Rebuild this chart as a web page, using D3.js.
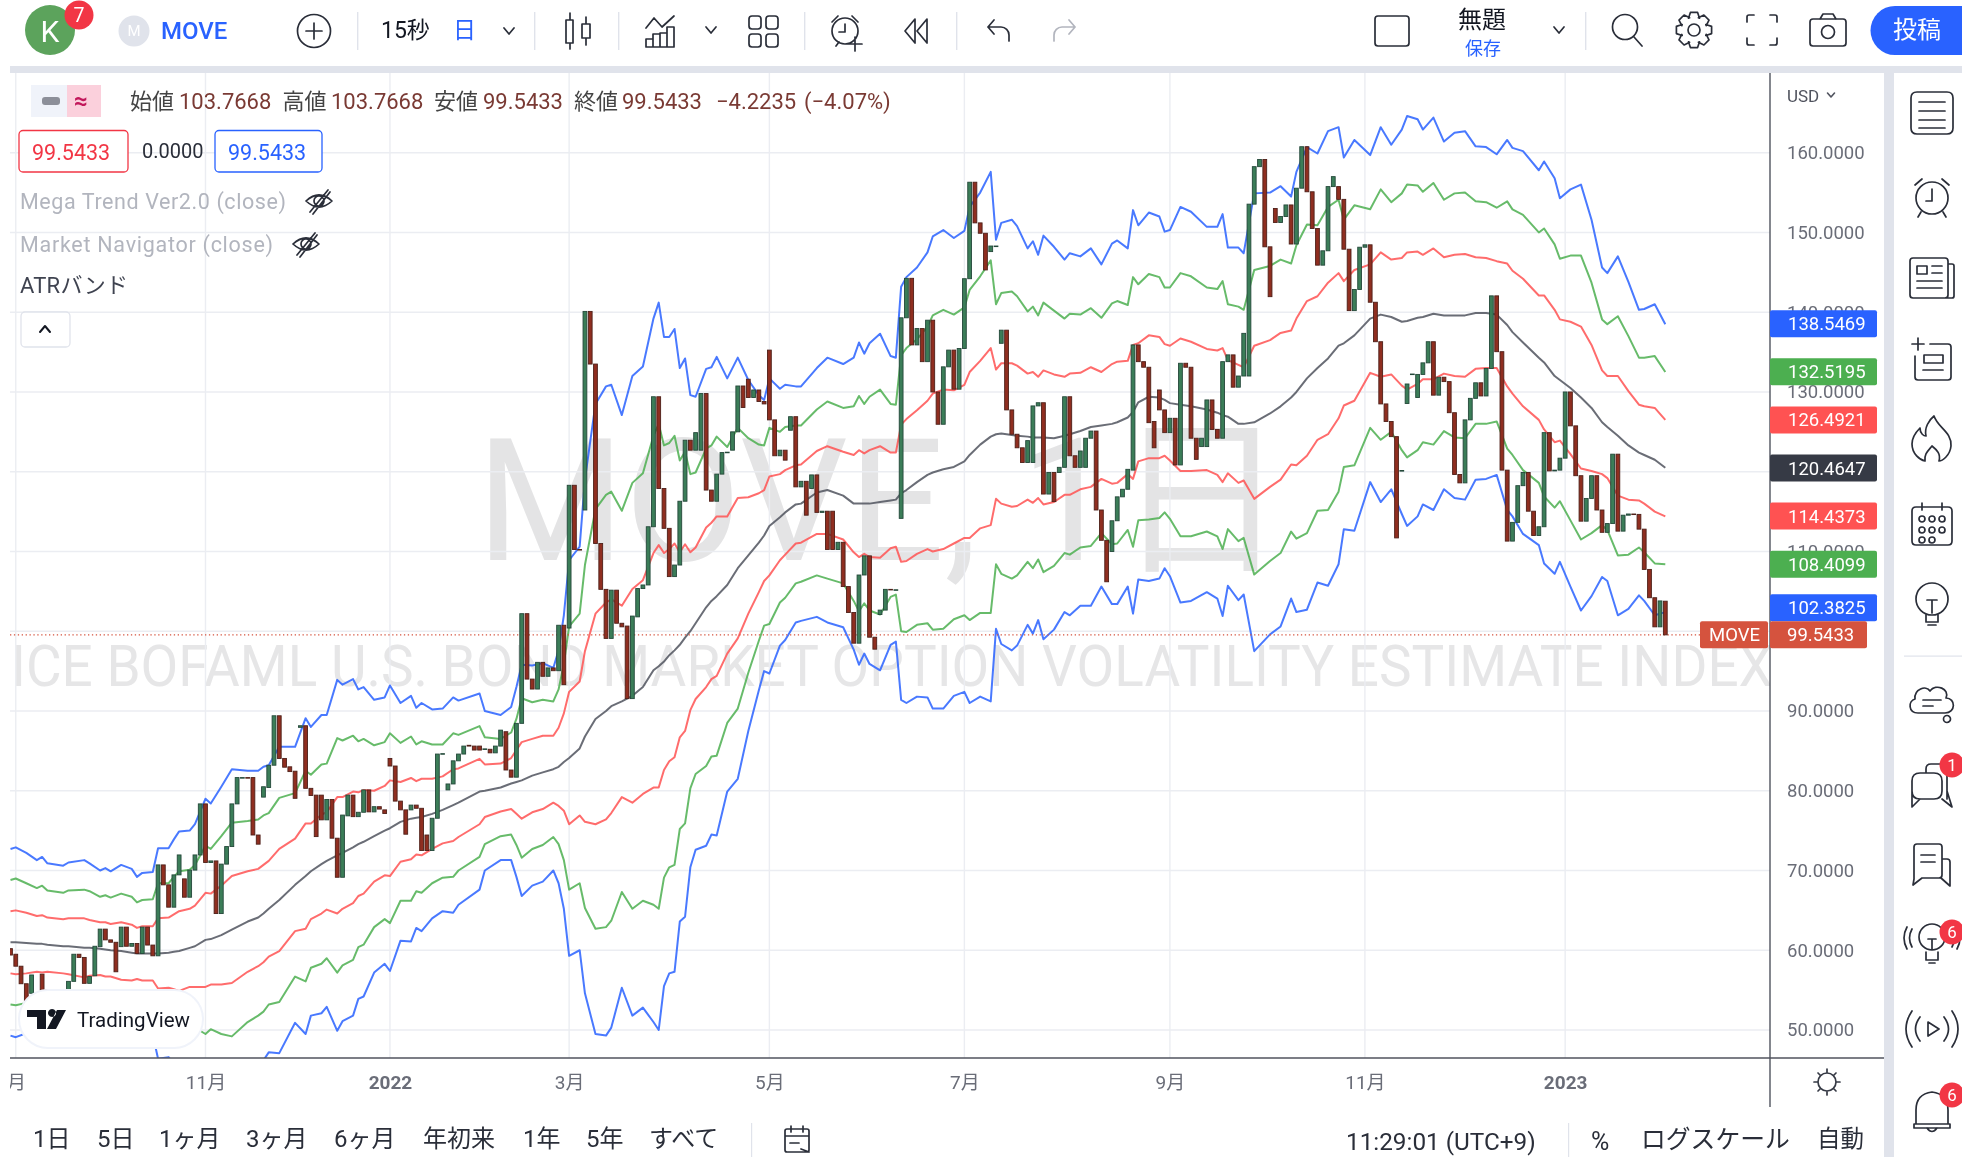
<!DOCTYPE html>
<html><head><meta charset="utf-8">
<style>html,body{margin:0;padding:0;background:#fff;overflow:hidden}svg{display:block;filter:blur(.35px)}text{font-family:Roboto,"Noto Sans CJK JP",sans-serif}</style>
<script src="https://cdnjs.cloudflare.com/ajax/libs/d3/7.8.5/d3.min.js"></script></head><body>
<svg id="c" width="1962" height="1157"></svg>
<script>
const opens=[60.2,59.5,58.0,55.8,54.6,54.6,57.0,55.0,54.5,54.2,54.7,55.0,56.1,59.5,59.1,55.85,56.8,60.45,62.65,61.3,61.0,60.45,62.9,60.5,60.85,59.6,62.9,60.65,59.3,70.7,68.2,65.4,69.45,68.95,66.65,70.05,71.95,78.35,71.0,71.2,64.6,70.8,73.0,78.35,81.6,81.65,81.65,74.45,79.2,80.4,83.2,89.4,84.05,83.0,82.45,87.95,88.15,80.3,79.45,79.45,76.35,78.9,74.05,69.15,76.85,79.45,76.75,77.3,80.1,77.35,78,77.6,84.05,83.1,78.7,77.6,77.6,78.2,77.8,74.45,72.5,76.55,84.6,80.1,80.85,83.75,84.6,85.7,85.6,85.6,85.2,85.2,84.75,85.6,87.4,82.6,81.7,88.45,102.2,94,92.75,96.1,94.35,95.4,95.05,100.75,100.4,118.3,110.25,115.2,140.1,133.5,111,105.25,99.1,105.15,101,100.65,91.55,101.8,105.35,105.8,113.1,129.4,117.9,112.9,106.85,108.3,116.3,123.95,122.7,122.7,129.8,117.7,116.3,119.7,122.4,122.7,125,130.75,131.6,129.3,130.25,128.8,135.25,126.5,122,122.7,125.2,126.9,118.1,118.8,117.9,119.6,114.9,115.05,115.05,110.25,111.15,105.6,102.35,98.5,107.05,109.45,99.25,102.1,102.65,105.25,105.2,114.15,139.3,144.25,135.9,137.95,133.8,139,130,125.95,133.15,135.25,130.35,135.45,144.2,156.3,151.2,149.9,147.6,148.3,136.1,137.75,127.75,124.7,123,121.15,121.15,128.25,128.65,117.2,119.9,119.9,120.55,129.4,122,120.55,120.55,124.2,125.1,115.2,111.4,110,113.85,116.85,117.8,120.2,135.9,133.8,133.1,126.3,130.25,127.75,124.9,126.7,120.85,133.6,133.1,124.2,123.15,123.15,129,125.3,124.2,133.8,134.65,130.6,132,132,153.55,158.25,159.15,148.2,153,151.25,152,153.45,148.55,155.55,160.75,155.1,150.5,145.9,147.7,155.75,155.75,154.15,147.9,140.2,142.85,148.15,148.45,141.25,136.3,128.5,126.3,124.4,120.1,128.55,132.2,129.3,132.2,133.65,136.3,129.6,131.85,131.3,127.4,119.65,118.6,126.5,129.2,131.15,129.5,132.95,142.05,135.05,120.2,111.3,113.65,118.25,119.9,115.05,112,113.1,124.9,120.1,120.2,121.7,130,125.75,119.5,113.8,116.65,119.5,115.2,112.4,113.5,122.2,112.55,114.55,114.7,114.65,112.8,107.75,104.2,100.55,103.7668];
const closes=[59.4,58.0,55.8,53.5,56.9,54.2,55.0,54.5,54.2,54.7,54.9,56.1,59.5,59.1,55.85,56.7,60.5,62.65,61.3,61.0,57.3,62.9,60.5,60.85,59.6,62.9,60.65,59.3,70.7,68.2,65.4,69.45,71.95,66.65,70.05,71.95,78.35,71.0,71.2,64.6,70.8,73.0,78.35,81.65,81.65,81.6,74.45,73.3,80.5,83.2,89.4,84.05,82.95,82.4,79.05,88.15,80.3,79.4,74.25,76.35,78.9,74.05,69.15,76.95,79.45,76.75,77.3,80.1,77.35,78,77.7,77.15,83.1,78.7,77.6,74.55,78.2,77.8,72.5,72.5,76.55,84.6,84.65,80.85,83.75,84.6,85.6,85.6,85.1,85.1,85.25,84.75,85.6,87.6,82.6,81.7,88.45,102.2,94,92.75,96.1,94.35,95.4,95.05,100.75,93.3,118.3,110.25,110.2,140.1,133.5,111,105.25,99.1,105.15,101,100.55,91.55,101.9,105.35,105.8,113.1,129.4,117.9,112.9,106.85,108.3,116.3,123.95,122.7,124.9,129.8,117.7,116.3,119.7,122.4,122.45,125,130.75,128.05,129.3,130.25,128.8,128.5,126.5,122,122.7,121.45,126.9,118.1,118.8,114.55,119.6,114.9,115.05,110.25,110.25,111.15,105.6,102.35,98.5,107.05,109.45,99.25,97.75,102.65,105.25,105.2,105.2,139.3,144.25,135.9,137.95,133.8,139,130,125.95,133.15,135.25,130.35,135.45,144.2,156.3,151.2,149.9,145.3,148.3,148.3,137.75,127.75,124.7,123,121.15,123.9,128.25,128.65,117.2,119.9,116.25,120.55,129.4,122,120.55,122.6,124.2,125.1,115.2,111.4,106.2,113.85,116.85,117.8,120.3,135.9,133.8,133.1,126.15,123,127.75,124.9,126.7,120.85,133.6,133.1,124.2,121.55,124.2,129,125.3,124.2,133.8,134.65,130.6,132,137.35,153.55,158.25,159.15,148.2,141.95,151.25,152,153.45,148.55,155.55,160.75,155.1,150.5,145.9,147.7,155.75,157,154.15,147.9,140.2,142.85,148.15,148.45,141.25,136.3,128.5,126.3,124.4,111.7,120.15,131,132.25,132.2,133.65,136.3,129.6,131.85,131.3,127.4,119.65,118.6,126.5,129.2,131.15,129.5,132.95,142.05,135.05,120.2,111.3,113.65,118.25,119.9,115.05,112,113.1,124.9,120.1,120.2,121.7,130,125.75,119.5,113.8,116.65,119.5,115.2,112.4,113.5,122.2,112.55,114.55,114.7,114.65,112.8,107.75,104.2,100.55,103.8,99.5433];
const bandBars=[0,1,3,5,6,7,10,11,14,15,17,18,19,21,23,24,25,27,28,30,31,32,34,35,37,38,40,42,45,47,48,49,51,54,56,57,59,60,62,63,65,66,67,69,71,72,74,76,77,78,80,82,84,85,89,90,93,95,96,97,99,101,103,104,105,106,108,109,111,113,114,116,118,120,122,123,124,125,126,127,128,129,130,132,133,134,136,138,140,142,143,144,146,147,149,150,153,155,158,160,161,162,163,165,167,168,169,170,172,174,175,177,179,181,182,184,186,187,188,190,191,193,194,195,196,198,200,201,203,205,207,209,210,212,213,214,216,218,219,220,222,224,227,229,230,231,233,234,236,239,241,243,244,246,248,250,252,253,255,258,260,262,264,265,267,268,270,272,274,276,278,280,282,284,285,287,290,291,293,294,296,298,300,302,303,305,307,309,310,312,314];
const upper3=[72.7,72.9,72.2,71.3,71.7,70.9,70.6,71.0,71.3,70.9,70.0,70.3,69.9,70.7,70.2,69.2,69.7,69.8,72.8,72.8,73.9,74.9,75.0,75.8,79.0,78.4,80.5,82.7,82.5,82.5,83.0,83.2,85.5,85.5,89.1,88.0,89.5,89.5,93.9,93.3,94.0,92.7,93.0,91.4,91.7,93.2,91.0,91.9,90.4,91.0,90.2,90.3,91.7,91.3,92.2,90.0,89.5,90.5,93.0,95.8,95.7,96.0,95.4,97.6,102,108.9,110.6,119,128.5,130.7,130.9,127.1,132.0,133.2,139.2,141.2,136.9,136.9,137.9,133.0,134.2,129.6,129.4,132.9,133.1,134.4,131.7,134.3,131.5,129.6,129.0,131.7,130.4,130.9,130.7,130.7,133.0,134.3,133.5,134.3,136.2,134.8,136.1,137.3,134.5,134.3,143.2,144.4,145.6,147.5,149.5,150.3,149.3,150.2,153.2,155.0,157.6,149.1,151.2,151.6,150.8,148.0,148.9,147.2,149.6,148.2,146.6,147.4,147.0,148.0,146.0,148.6,149.0,148.0,152.8,150.9,152.5,152.0,150.1,150.3,153.2,152.6,150.7,150.7,152.3,148.1,148.1,147.4,154.9,155.0,155.8,154.5,157.6,160.7,159.9,162.7,163.2,159.4,161.6,159.7,163.2,161.0,162.9,164.6,164.2,162.9,164.4,161.4,162.5,162.7,160.8,160.7,159.8,161.6,160.6,160.2,157.8,158.9,156.8,154.3,155.4,156.0,151.6,145.6,144.9,147.0,143.8,140.3,140.4,141.0,138.5];
const upper2=[68.8,69.0,68.4,67.8,68.1,67.5,67.2,67.5,67.6,67.4,66.7,66.9,66.6,67.1,66.7,66.0,66.3,66.4,68.4,68.4,69.2,69.9,70.1,70.7,73.1,72.7,74.3,76.0,76.2,76.4,76.9,77.2,79.1,79.7,82.5,82.0,83.3,83.4,86.6,86.3,86.9,86.2,86.5,85.7,86.1,87.2,86.0,86.8,85.8,86.2,85.8,85.8,87.2,87.0,88.1,86.7,86.5,87.3,89.0,91.6,91.1,91.4,91.2,92.7,95.9,100.6,102.2,108.3,115.3,117.1,117.5,115.1,118.6,119.8,124.5,126.0,123.3,123.6,124.5,121.4,122.5,119.7,119.9,122.9,123.3,124.4,123.1,125.5,124.2,123.4,123.3,125.5,125.0,125.6,125.8,125.8,127.8,128.8,128.0,128.2,129.5,128.5,129.4,130.3,128.5,128.4,134.6,135.5,136.6,138.2,139.6,140.3,139.7,140.6,142.8,144.5,146.5,141.0,142.4,142.6,142.0,140.1,140.7,139.6,141.2,140.2,139.2,139.8,139.7,140.5,139.3,141.1,141.4,140.9,144.4,143.5,144.8,144.4,143.1,143.1,144.9,144.5,143.1,142.9,143.9,141.0,140.7,140.3,145.3,145.8,146.6,146.1,148.4,151.0,150.9,153.2,154.1,151.6,153.4,152.9,155.4,153.8,154.9,156.0,155.9,155.1,156.2,154.1,154.9,155.0,153.9,153.8,153.1,153.9,152.9,152.2,150.0,150.5,148.5,146.7,147.1,147.1,143.7,139.1,138.5,139.5,137.0,134.3,134.3,134.5,132.5];
const upper1=[64.9,65.0,64.7,64.3,64.4,64.1,63.9,64.0,64.0,63.8,63.5,63.5,63.3,63.5,63.2,62.8,63.0,63.0,64.0,64.1,64.5,64.9,65.2,65.6,67.2,67.1,68.1,69.3,69.9,70.2,70.7,71.2,72.7,74.0,75.9,75.9,77.0,77.3,79.2,79.2,79.9,79.8,80.1,80.0,80.6,81.3,81.1,81.6,81.2,81.5,81.5,81.8,82.7,82.8,84.0,83.3,83.4,84.1,85.1,86.1,86.5,86.9,86.9,87.9,89.7,92.4,93.7,97.5,102.2,103.6,104.0,103.2,105.3,106.4,109.8,110.8,109.8,110.3,111.0,109.9,110.9,109.9,110.5,113.0,113.6,114.4,114.4,116.7,116.8,117.3,117.7,119.4,119.7,120.2,120.8,120.9,122.6,123.2,122.5,122.1,122.7,122.3,122.7,123.2,122.4,122.4,125.9,126.6,127.7,128.9,129.8,130.3,130.2,130.9,132.5,133.9,135.5,132.8,133.6,133.6,133.3,132.3,132.5,131.9,132.7,132.2,131.9,132.3,132.4,133.1,132.5,133.5,133.8,133.9,135.9,136.1,137.1,136.9,136.0,135.8,136.7,136.3,135.4,135.2,135.5,134.0,133.4,133.1,135.8,136.5,137.4,137.7,139.2,141.4,142.0,143.7,144.9,143.9,145.3,146.0,147.5,146.6,146.8,147.5,147.6,147.2,148.0,146.9,147.2,147.3,146.9,146.8,146.4,146.1,145.2,144.2,142.1,142.1,140.3,139.1,138.8,138.2,135.9,132.7,132.0,132.0,130.1,128.4,128.2,128.0,126.5];
const middle=[61.0,61.0,60.9,60.8,60.8,60.7,60.5,60.5,60.3,60.3,60.2,60.1,60.0,59.9,59.7,59.6,59.6,59.6,59.6,59.7,59.8,59.9,60.3,60.5,61.3,61.4,61.9,62.6,63.6,64.1,64.6,65.2,66.3,68.2,69.3,69.9,70.8,71.2,71.9,72.2,72.9,73.3,73.6,74.3,75.0,75.3,76.1,76.5,76.6,76.7,77.1,77.6,78.2,78.5,79.9,80.0,80.4,80.9,81.1,81.3,81.9,82.3,82.7,83.0,83.6,84.1,85.3,86.8,89.0,90.0,90.6,91.2,91.9,93.0,95.1,95.6,96.2,97.0,97.6,98.3,99.2,100.0,101.0,103.0,103.8,104.4,105.8,107.9,109.5,111.1,112.0,113.2,114.3,114.9,115.9,116.0,117.4,117.7,117.0,116.0,116.0,116.0,116.0,116.2,116.4,116.5,117.3,117.7,118.7,119.6,119.9,120.3,120.6,121.3,122.1,123.4,124.4,124.7,124.8,124.6,124.5,124.4,124.3,124.3,124.3,124.2,124.5,124.7,125.1,125.6,125.8,126.0,126.2,126.8,127.5,128.7,129.4,129.3,129.0,128.6,128.4,128.2,127.8,127.4,127.1,126.9,126.0,126.0,126.2,127.3,128.2,129.3,130.0,131.7,133.0,134.2,135.8,136.1,137.1,139.2,139.7,139.4,138.8,138.9,139.3,139.4,139.8,139.6,139.6,139.6,139.9,139.9,139.7,138.4,137.5,136.2,134.3,133.7,132.0,131.5,130.5,129.3,128.0,126.2,125.6,124.5,123.3,122.4,122.1,121.5,120.5];
const lower1=[57.1,57.0,57.1,57.3,57.2,57.3,57.1,57.0,56.6,56.8,56.9,56.7,56.7,56.3,56.2,56.4,56.2,56.2,55.2,55.3,55.1,54.9,55.4,55.4,55.4,55.7,55.7,55.9,57.3,58.0,58.5,59.2,59.9,62.4,62.7,63.9,64.6,65.1,64.6,65.2,65.9,66.8,67.1,68.6,69.4,69.3,71.1,71.4,72.0,71.9,72.7,73.4,73.7,74.2,75.8,76.7,77.4,77.7,77.1,76.5,77.3,77.7,78.5,78.1,77.5,75.8,76.9,76.1,75.8,76.4,77.2,79.2,78.5,79.6,80.4,80.4,82.6,83.7,84.2,86.7,87.5,90.1,91.5,93.0,94.0,94.4,97.2,99.1,102.2,104.9,106.3,107.0,108.9,109.6,111.0,111.1,112.2,112.2,111.5,109.9,109.3,109.7,109.3,109.2,110.4,110.6,108.7,108.8,109.7,110.3,110.0,110.3,111.0,111.7,111.7,112.9,113.3,116.6,116.0,115.6,115.7,116.5,116.1,116.7,115.9,116.2,117.1,117.1,117.8,118.1,119.1,118.5,118.6,119.7,119.1,121.3,121.7,121.7,122.0,121.4,120.1,120.1,120.2,119.6,118.7,119.8,118.6,118.9,116.6,118.1,119.0,120.9,120.8,122.0,124.0,124.7,126.7,128.3,128.9,132.4,131.9,132.2,130.8,130.3,131.0,131.6,131.6,132.3,132.0,131.9,132.9,133.0,133.0,130.7,129.8,128.2,126.5,125.3,123.7,123.9,122.2,120.4,120.1,119.7,119.2,117.0,116.5,116.4,116.0,115.0,114.4];
const lower2=[53.2,53.1,53.4,53.8,53.5,53.9,53.8,53.5,53.0,53.2,53.7,53.3,53.4,52.7,52.7,53.2,52.9,52.8,50.8,51.0,50.4,49.9,50.5,50.3,49.5,50.1,49.5,49.2,51.0,51.8,52.3,53.2,53.5,56.7,56.1,57.8,58.3,59.0,57.2,58.1,58.8,60.4,60.7,62.9,63.9,63.4,66.2,66.2,67.4,67.2,68.4,69.1,69.2,70.0,71.7,73.3,74.3,74.5,73.2,71.6,72.7,73.2,74.2,73.3,71.3,67.6,68.4,65.3,62.7,62.9,63.7,67.3,65.2,66.2,65.7,65.2,69.1,70.4,70.7,75.2,75.9,80.3,82.1,83.1,84.3,84.4,88.5,90.3,94.8,98.8,100.7,100.9,103.6,104.2,106.0,106.2,107.0,106.6,106.0,103.8,102.5,103.5,102.6,102.1,104.3,104.6,100.0,99.9,100.8,101.0,100.2,100.3,101.5,102.0,101.4,102.3,102.3,108.4,107.2,106.6,107.0,108.7,107.9,109.0,107.4,108.2,109.8,109.6,110.5,110.7,112.3,110.9,111.0,112.7,110.6,113.9,114.0,114.2,114.9,114.1,111.9,111.9,112.5,111.9,110.3,112.8,111.3,111.7,107.1,108.8,109.8,112.5,111.6,112.3,115.1,115.2,117.5,120.6,120.8,125.5,124.0,125.0,122.7,121.8,122.7,123.7,123.4,125.1,124.3,124.2,126.0,126.0,126.3,122.9,122.1,120.2,118.6,116.9,115.5,116.3,113.9,111.5,112.3,113.3,112.7,109.5,109.6,110.5,109.9,108.5,108.4];
const lower3=[49.3,49.1,49.6,50.3,49.9,50.5,50.4,50.0,49.3,49.7,50.4,49.9,50.1,49.1,49.2,50.0,49.5,49.4,46.4,46.6,45.7,44.9,45.6,45.2,43.6,44.4,43.3,42.5,44.7,45.7,46.2,47.2,47.1,50.9,49.5,51.8,52.1,52.9,49.9,51.1,51.8,53.9,54.2,57.2,58.3,57.4,61.2,61.1,62.8,62.4,64.0,64.9,64.7,65.7,67.6,70.0,71.3,71.3,69.2,66.8,68.1,68.6,70.0,68.4,65.2,59.3,60.0,54.6,49.5,49.3,50.3,55.3,51.8,52.8,51.0,50.0,55.5,57.1,57.3,63.6,64.2,70.4,72.6,73.1,74.5,74.4,79.9,81.5,87.5,92.6,95.0,94.7,98.2,98.9,101.1,101.3,101.8,101.1,100.5,97.7,95.8,97.2,95.9,95.1,98.3,98.7,91.4,91.0,91.8,91.7,90.3,90.3,91.9,92.4,91.0,91.8,91.2,100.3,98.4,97.6,98.2,100.8,99.7,101.4,99.0,100.2,102.4,102.0,103.2,103.2,105.6,103.4,103.4,105.6,102.2,106.5,106.3,106.6,107.9,106.9,103.6,103.8,104.9,104.1,101.9,105.7,103.9,104.6,97.5,99.6,100.6,104.1,102.4,102.7,106.1,105.7,108.4,112.8,112.6,118.7,116.2,117.8,114.7,113.2,114.4,115.9,115.2,117.8,116.7,116.5,119.0,119.1,119.6,115.2,114.4,112.2,110.8,108.5,107.2,108.7,105.6,102.6,104.4,106.8,106.3,102.0,102.8,104.5,103.8,102.0,102.4];
const monthBars=[1,37,72,106,144,181,220,257,295];
const monthLabels=["9月","11月","2022","3月","5月","7月","9月","11月","2023"];
const priceTicks=[50,60,70,80,90,100,110,120,130,140,150,160];
const coveredTicks=[100,120];
const lastValues=[138.5469,132.5195,126.4921,120.4647,114.4373,108.4099,102.3825];
const lastClose=99.5433;

const BLUE="#2962ff",GREEN="#4caf50",RED="#ff5252",DARK="#363a45",PR="#d5533e",INK="#2a2e39",BAND="#e0e3eb";
const svg=d3.select("#c");
const x=d3.scaleLinear().domain([0,314]).range([10.5,1665.3]);
const y=d3.scaleLinear().domain([50,160]).range([1030,152.7]);
const L=10,R=1770,T=73,B=1058;
svg.append("defs").append("clipPath").attr("id","plot").append("rect").attr("x",L).attr("y",T).attr("width",R-L).attr("height",B-T);
svg.append("defs").append("clipPath").attr("id","tax").append("rect").attr("x",L).attr("y",B).attr("width",R-L).attr("height",50);
const plot=svg.append("g").attr("clip-path","url(#plot)");

// watermark
plot.append("text").attr("x",881).attr("y",560).attr("text-anchor","middle").attr("font-size",170).attr("fill","#e4e4e5").text("MOVE, 1日");
plot.append("text").attr("x",892).attr("y",686).attr("text-anchor","middle").attr("font-size",58).attr("fill","#e6e6e7").attr("textLength",1762).attr("lengthAdjust","spacingAndGlyphs").text("ICE BOFAML U.S. BOND MARKET OPTION VOLATILITY ESTIMATE INDEX");

// grid
const GRID="#ebedf2";
plot.append("g").selectAll("line").data(priceTicks).join("line").attr("x1",L).attr("x2",R).attr("y1",d=>y(d)).attr("y2",d=>y(d)).attr("stroke",GRID).attr("stroke-width",1.6);
plot.append("g").selectAll("line").data(monthBars).join("line").attr("x1",d=>x(d)).attr("x2",d=>x(d)).attr("y1",T).attr("y2",B).attr("stroke",GRID).attr("stroke-width",1.4);

// bands
const bands=[[upper3,BLUE],[upper2,GREEN],[upper1,RED],[middle,"#50535e"],[lower1,RED],[lower2,GREEN],[lower3,BLUE]];
const line=d3.line().x((d,i)=>x(bandBars[i])).y(d=>y(d));
plot.append("g").selectAll("path").data(bands).join("path").attr("fill","none").attr("stroke",d=>d[1]).attr("stroke-width",2).attr("stroke-opacity",.85).attr("stroke-linejoin","round").attr("d",d=>line(d[0]));

// price line
plot.append("line").attr("x1",L).attr("x2",1700).attr("y1",y(lastClose)).attr("y2",y(lastClose)).attr("stroke",PR).attr("stroke-width",1.2).attr("stroke-dasharray","1.3 2.6");

// candles
plot.append("g").selectAll("rect").data(closes).join("rect")
 .attr("x",(d,i)=>x(i)-1.9).attr("width",3.8)
 .attr("y",(d,i)=>y(Math.max(d,opens[i])))
 .attr("height",(d,i)=>Math.max(.6,Math.abs(y(d)-y(opens[i]))))
 .attr("fill",(d,i)=>d>=opens[i]?"#3b7d58":"#8f2e20")
 .attr("stroke",(d,i)=>d>=opens[i]?"#24483a":"#4e2019").attr("stroke-width",.9);

// axes frame
const yAxis=d3.axisRight(y).tickValues(priceTicks.filter(d=>!coveredTicks.includes(d))).tickFormat(d3.format(".4f")).tickSize(0).tickPadding(0);
const yg=svg.append("g").attr("transform",`translate(1787,0)`).call(yAxis);
yg.select(".domain").remove();
yg.selectAll("text").attr("font-size",18.5).attr("fill","#6a6d78").attr("font-family",'Roboto');
const xAxis=d3.axisBottom(x).tickValues(monthBars).tickFormat((d,i)=>monthLabels[i]).tickSize(0).tickPadding(0);
const xg=svg.append("g").attr("clip-path","url(#tax)").append("g").attr("transform",`translate(0,1075)`).call(xAxis);
xg.select(".domain").remove();
xg.selectAll("text").attr("font-size",19).attr("fill","#6a6d78").attr("font-family",'Roboto,"Noto Sans CJK JP"').attr("font-weight",(d,i)=>/20/.test(monthLabels[i])?700:400).attr("dx",(d,i)=>i===0?-5:0);
svg.append("line").attr("x1",L).attr("x2",1884).attr("y1",B).attr("y2",B).attr("stroke","#50535e").attr("stroke-width",1.6);
svg.append("line").attr("x1",R).attr("x2",R).attr("y1",T).attr("y2",1107).attr("stroke","#50535e").attr("stroke-width",1.4);

// last value labels
const colors=[BLUE,GREEN,RED,DARK,RED,GREEN,BLUE];
const py=y(lastClose);
const labelY=d=>Math.min(y(d),py-27);
const lab=svg.append("g");
lab.selectAll("rect").data(lastValues).join("rect").attr("x",R).attr("width",107).attr("height",27).attr("rx",2).attr("y",d=>labelY(d)-13.5).attr("fill",(d,i)=>colors[i]);
lab.selectAll("text").data(lastValues).join("text").attr("x",1788).attr("y",d=>labelY(d)+6.5).attr("font-size",18.5).attr("fill","#fff").text(d=>d.toFixed(4));
svg.append("rect").attr("x",1700).attr("y",py-13.5).attr("width",68).attr("height",27).attr("rx",2).attr("fill",PR);
svg.append("rect").attr("x",R).attr("y",py-13.5).attr("width",97).attr("height",27).attr("rx",2).attr("fill",PR);
svg.append("text").attr("x",1709).attr("y",py+6.5).attr("font-size",18.5).attr("fill","#fff").text("MOVE");
svg.append("text").attr("x",1787).attr("y",py+6.5).attr("font-size",18.5).attr("fill","#fff").text(lastClose.toFixed(4));

// chrome
const C=svg.append("g");
const T_=(tx,xx,yy,fs,fill="#131722",extra={})=>{const t=C.append("text").attr("x",xx).attr("y",yy).attr("font-size",fs).attr("fill",fill).attr("dominant-baseline","central").text(tx);for(const k in extra)t.attr(k,extra[k]);return t;};
const P=(xx,yy,d,c=INK,w=1.7)=>C.append("path").attr("transform",`translate(${xx},${yy})`).attr("d",d).attr("fill","none").attr("stroke",c).attr("stroke-width",w).attr("stroke-linecap","round").attr("stroke-linejoin","round");
const circ=(r,cx=0,cy=0)=>`M${cx-r},${cy}a${r},${r} 0 1,0 ${2*r},0a${r},${r} 0 1,0 ${-2*r},0`;
const rr=(a,b,w,h,r=3)=>`M${a+r},${b}h${w-2*r}q${r},0 ${r},${r}v${h-2*r}q0,${r} ${-r},${r}h${-(w-2*r)}q${-r},0 ${-r},${-r}v${-(h-2*r)}q0,${-r} ${r},${-r}z`;
const Rect=(a,b,w,h,f,o={})=>{const t=C.append("rect").attr("x",a).attr("y",b).attr("width",w).attr("height",h).attr("fill",f);for(const k in o)t.attr(k,o[k]);return t;};
const CHEV="M-5,-3L0,3L5,-3";
const badge=(cx,cy,n,r=12.5)=>{C.append("circle").attr("cx",cx).attr("cy",cy).attr("r",r).attr("fill","#f23645");T_(n,cx,cy,r*1.35,"#fff",{"text-anchor":"middle"});};
const gear=(ro,ri,n)=>{let s="";for(let k=0;k<n;k++){const a=k/n*2*Math.PI,w=.2;const pts=[[ri,a-2.2*w],[ro,a-w],[ro,a+w],[ri,a+2.2*w]];pts.forEach((p,j)=>{s+=(k===0&&j===0?"M":"L")+(p[0]*Math.cos(p[1])).toFixed(1)+","+(p[0]*Math.sin(p[1])).toFixed(1);});}return s+"Z";};

// bands of UI
Rect(0,0,1962,66,"#fff");
Rect(10,66,1952,7,BAND);
Rect(1884,66,10,1091,BAND);
Rect(1894,73,68,1084,"#fff");
Rect(0,1108,1884,49,"#fff");

// top toolbar
C.append("circle").attr("cx",50).attr("cy",30).attr("r",25).attr("fill","#5ca35c");
T_("K",50,31,30,"#fff",{"text-anchor":"middle"});
badge(79,15,"7",14.5);
C.append("circle").attr("cx",134).attr("cy",31).attr("r",15.5).attr("fill",BAND);
T_("M",134,31,15,"#fff",{"text-anchor":"middle"});
T_("MOVE",161,31,24,BLUE,{"font-weight":500});
P(314,31,circ(16.5)+"M-8,0H8M0,-8V8");
[357,534,618,804,956,1585].forEach(a=>Rect(a,12,1.4,38,BAND));
T_("15秒",381,30,23);
T_("日",453,30,23,BLUE);
P(509,31,CHEV);
P(578,31,"M-8,-18V-11M-8,12V18M-12,-11h7v23h-7zM8,-14V-7M8,7V14M4,-7h8v14h-8z");
P(660,31,"M-14,-3L-6,-13L2,-4L14,-15M-14,16v-8h7v8zM-7,16v-13h7v13zM0,16V2h7v14zM7,16V-4h7v20z");
P(711,30,CHEV);
P(763,31,rr(-14,-15,12,13)+rr(3,-15,12,13)+rr(-14,3,12,13)+rr(3,3,12,13));
P(847,31,circ(13,-2,0)+"M-15,-9L-9,-15M5,-15L11,-9M-2,-7V1H-8M8,6V20M1,13H15M-8,11L-11,15");
P(916,31,"M-1,-12L-11,0L-1,12ZM11,-12L1,0L11,12Z");
P(998,30,"M-10,-3L-4,-10M-10,-3L-4,4M-10,-3H3a8,8 0 0 1 8,8V11");
P(1065,30,"M10,-3L4,-10M10,-3L4,4M10,-3H-3a8,8 0 0 0 -8,8V11","#b2b5be");
P(1392,31,rr(-17,-15,34,30,3));
T_("無題",1458,20,24);
T_("保存",1465,48,18,BLUE);
P(1559,30,CHEV);
P(1627,30,circ(12.5,-2,-3)+"M7,7L15,16");
P(1694,30,circ(6)+gear(18,13,8));
P(1762,30,"M-15,-8V-13q0,-2 2,-2H-8M8,-15H13q2,0 2,2V-8M15,8V13q0,2 -2,2H8M-8,15H-13q-2,0 -2,-2V8");
P(1828,30,rr(-18,-11,36,27,3)+circ(6.5,0,2)+"M-8,-11L-5,-16H5L8,-11");
C.append("path").attr("d","M1962,6H1895a24.5,24.5 0 0 0 0,49H1962Z").attr("fill",BLUE);
T_("投稿",1893,30,24,"#fff");

// legend
Rect(31,85,36,32,"#f0f3fa",{rx:0});
Rect(67,85,34,32,"#fbd0dc");
Rect(42,97,18,8,"#8c8f99",{rx:3});
T_("≈",74,101,24,"#c2185b",{"font-weight":700});
const LV="#7a3a34",LN="#444";
[["始値",130,LN],["103.7668",179,LV],["高値",282.5,LN],["103.7668",331,LV],["安値",434,LN],["99.5433",483,LV],["終値",574,LN],["99.5433",622,LV],["−4.2235",716,LV],["(−4.07%)",804,LV]].forEach(d=>T_(d[0],d[1],101,22,d[2]));
Rect(19,130.5,109,41.5,"#fff",{stroke:"#f23645","stroke-width":1.3,rx:4});
Rect(215,130.5,107,41.5,"#fff",{stroke:BLUE,"stroke-width":1.3,rx:4});
T_("99.5433",32,152,21.5,"#f23645");
T_("0.0000",142,151,20,"#2a2e39");
T_("99.5433",228,152,21.5,BLUE);
T_("Mega Trend Ver2.0 (close)",20,201,21.5,"#b2b5be",{"font-family":"Open Sans","textLength":266});
T_("Market Navigator (close)",20,244,21.5,"#b2b5be",{"font-family":"Open Sans","textLength":253});
T_("ATRバンド",20,285,22,"#3f4350",{"textLength":108});
P(319,201,"M-13,0q13,-12 26,0q-13,12 -26,0"+circ(5)+"M-9,11L9,-11M-6,13L11,-9");
P(306,244,"M-13,0q13,-12 26,0q-13,12 -26,0"+circ(5)+"M-9,11L9,-11M-6,13L11,-9");
Rect(21,312,49,35,"#fff",{stroke:BAND,"stroke-width":1.3,rx:4});
P(45,329,"M-5,3L0,-3L5,3","#131722",2);

// TradingView logo
Rect(19,990,184,58,"#fff",{stroke:"#f0f3fa","stroke-width":2,rx:29});
C.append("path").attr("d","M27,1010H46V1029H37V1017H27ZM57,1010H66L56,1029H47ZM52,1009a4,4 0 1,0 .1,0Z").attr("fill","#131722");
T_("TradingView",77,1020,20.5,"#131722",{"textLength":113});

// price unit
T_("USD",1787,96,17,"#50535e");
P(1831,95,"M-3.5,-2L0,2L3.5,-2","#50535e",1.6);
P(1827,1082,circ(9)+"M0,-9V-13M0,9V13M-9,0H-13M9,0H13M-7,-7L-9,-9M7,7L9,9M-7,7L-9,9M7,-7L9,-9","#363a45");

// right toolbar
const rx_=1932;
P(rx_,113,rr(-21,-21,42,42,6)+"M-13,-11H13M-13,-2H13M-13,7H13M-13,15H13");
P(rx_,197,circ(16,0,1)+"M-17,-12L-10,-18M17,-12L10,-18M0,-8V4H-6M-11,15L-14,20M11,15L14,20");
P(rx_,278,rr(-22,-20,38,40,3)+"M16,-14h4q2,0 2,2V18q0,2 -2,2H-4M-15,-12h10v8h-10zM0,-12H10M0,-5H10M-15,3H10M-15,10H10");
P(rx_,360,"M-20,-16H-8M-14,-22V-10M-2,-16H16q3,0 3,3V17q0,3 -3,3H-14q-3,0 -3,-3V-4M-8,-5H11V3H-8zM-9,10H11");
P(rx_,440,"M2,-24C6,-12 20,-8 19,6C18,16 10,21 7,21C9,14 5,10 0,6C-4,11 -8,14 -7,21C-12,20 -20,14 -20,4C-20,-4 -14,-10 -12,-12C-12,-6 -8,-4 -6,-4C-8,-12 -3,-20 2,-24Z");
P(rx_,525,rr(-20,-18,40,38,4)+"M-10,-22V-15M10,-22V-15"+[-10,0,10].map(a=>circ(3,a,-6)+circ(3,a,5)).join("")+circ(3,-10,15)+circ(3,0,15));
P(rx_,605,circ(16,0,-6)+"M-5,-5H5M0,-5V8M-6,10V17H6V10M-4,20H4");
Rect(1904,655.5,58,1.2,BAND);
P(rx_,703,"M-14,10C-24,10 -24,-2 -17,-4C-18,-14 -6,-18 -2,-12C4,-20 18,-14 14,-5C24,-5 24,10 13,10ZM-9,-3H9M-9,3H1"+circ(3.5,15,16));
P(rx_,783,rr(-20,-10,30,26,8)+"M-20,6V24L-12,16M-6,-10V-14q0,-5 5,-5H8q7,0 7,7V16M15,8L20,24L10,16");
badge(1952,765,"1");
P(rx_,865,"M-18,14V-18q0,-3 3,-3H7q3,0 3,3V10q0,3 -3,3H-10L-19,20ZM-11,-10H3M-11,-3H3M10,-6H15q3,0 3,3V21L9,13");
P(rx_,945,circ(13,0,-8)+"M-4,-6H4M0,-6V5M-6,7V15H6V7M-3,18H3M-20,-16q-5,9 0,18M-25,-18q-6,11 0,22M20,-16q5,9 0,18M25,-18q6,11 0,22");
badge(1952,932,"6");
P(rx_,1029,"M-12,-12q-9,12 0,24M-20,-18q-12,18 0,36M12,-12q9,12 0,24M20,-18q12,18 0,36M-4,-7L7,0L-4,7Z");
P(rx_,1108,"M-16,16V2q0,-16 16,-18q16,2 16,18V16M-18,16H18V20H-18ZM-5,20q5,7 10,0");
badge(1952,1095,"6");

// bottom bar
[["1日",33],["5日",97],["1ヶ月",159],["3ヶ月",246],["6ヶ月",334],["年初来",423],["1年",523],["5年",586],["すべて",649]].forEach(d=>T_(d[0],d[1],1139,24,"#2a2e39"));
Rect(751,1123,1.2,34,BAND);
P(797,1140,rr(-12,-11,24,23,2)+"M-12,-4H12M-6,-14V-8M6,-14V-8M-7,3H2M4,9L12,12");
T_("11:29:01 (UTC+9)",1346,1141,24.3,"#2a2e39");
Rect(1568,1123,1.2,34,BAND);
T_("%",1591,1141,25,"#2a2e39");
T_("ログスケール",1641,1139,24.8,"#2a2e39");
T_("自動",1817,1139,23.5,"#2a2e39");
</script></body></html>
